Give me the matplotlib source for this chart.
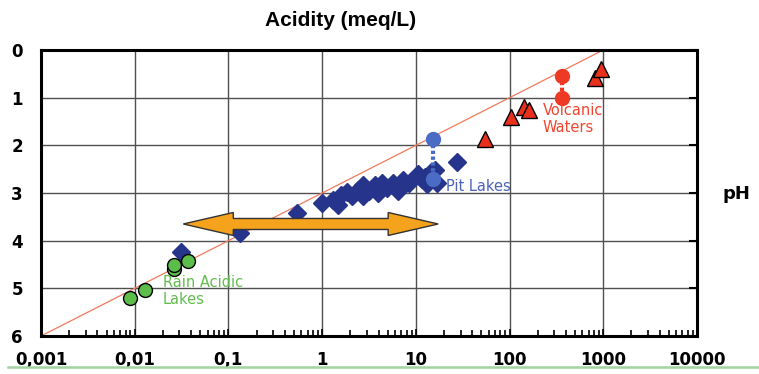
import matplotlib.pyplot as plt
import numpy as np
from matplotlib.patches import Polygon
from matplotlib.transforms import IdentityTransform
from matplotlib.lines import Line2D

# acidity (meq/L) against pH
rain_x = [0.009, 0.013, 0.026, 0.0265, 0.037]
rain_y = [5.2, 5.03, 4.6, 4.5, 4.42]

pit_x = [0.031, 0.133, 0.54, 0.99, 1.32, 1.49, 1.6, 1.83, 2.07, 2.4, 2.75, 2.75,
         3.2, 3.67, 3.98, 4.4, 4.9, 5.7, 6.5, 7.3, 8.5, 10.5, 11.5, 12.6, 13.0,
         14.5, 16.0, 17.0, 27.3]
pit_y = [4.23, 3.84, 3.41, 3.22, 3.14, 3.25, 3.05, 2.97, 3.07, 2.93, 2.83, 3.07,
         2.95, 2.83, 3.0, 2.78, 2.9, 2.8, 2.95, 2.73, 2.8, 2.6, 2.7, 2.66, 2.82,
         2.55, 2.52, 2.8, 2.34]

pit_model_x = [15.4, 15.4]
pit_model_y = [1.87, 2.71]

volc_x = [55, 103, 143, 162, 818, 948]
volc_y = [1.87, 1.40, 1.19, 1.26, 0.59, 0.40]

volc_model_x = [360, 360]
volc_model_y = [0.55, 1.0]

ref_x = [0.001, 1000]
ref_y = [6, 0]

arrow_x = [0.033, 17.3]
arrow_y = 3.65

xticks = [0.001, 0.01, 0.1, 1, 10, 100, 1000, 10000]
xlabels = ['0,001', '0,01', '0,1', '1', '10', '100', '1000', '10000']
yticks = [0, 1, 2, 3, 4, 5, 6]

fig = plt.figure(figsize=(7.59, 3.74), dpi=100)
ax = fig.add_axes([41 / 759, 38 / 374, 656 / 759, 286 / 374])

ax.set_xscale('log')
ax.set_xlim(0.001, 10000)
ax.set_ylim(6, 0)

ax.grid(True, which='major', color='#505050', lw=1.0)
ax.set_axisbelow(True)

ax.plot(ref_x, ref_y, color='#f07a5c', lw=0.9, zorder=2)

ax.plot(pit_x, pit_y, 'D', color='#27348b', ms=9, mec='#27348b', zorder=3)
ax.plot(pit_model_x, pit_model_y, color='#4a6cc4', lw=3, ls=(0, (0.8, 0.6)), zorder=3)
ax.plot(pit_model_x, pit_model_y, 'o', color='#4a6cc4', ms=10, zorder=4)

ax.plot(rain_x, rain_y, 'o', color='#5cbd4a', mec='black', mew=1.0, ms=10, zorder=4)

ax.plot(volc_model_x, volc_model_y, color='#ee3a24', lw=3, ls=(0, (0.8, 0.6)), zorder=3)
ax.plot(volc_model_x, volc_model_y, 'o', color='#ee3a24', ms=10, zorder=4)
ax.plot(volc_x, volc_y, '^', color='#e8301c', mec='black', mew=1.0, ms=11, zorder=4)

ax.text(227, 1.45, 'Volcanic\nWaters', color='#f0452e', fontsize=10.5,
        ha='left', va='center', linespacing=1.2, zorder=5)
ax.text(21, 2.86, 'Pit Lakes', color='#4a62b8', fontsize=10.5,
        ha='left', va='center', zorder=5)
ax.text(0.02, 5.05, 'Rain Acidic\nLakes', color='#62bd4e', fontsize=10.5,
        ha='left', va='center', linespacing=1.2, zorder=5)

ax.set_xticks(xticks)
ax.set_xticklabels(xlabels)
ax.set_yticks(yticks)
for lab in ax.get_xticklabels() + ax.get_yticklabels():
    lab.set_fontweight('bold')
    lab.set_fontsize(12)

ax.tick_params(axis='x', which='major', direction='in', length=5, width=1.2,
               pad=11, bottom=True, top=False)
ax.tick_params(axis='x', which='minor', direction='in', length=4, width=1.2,
               bottom=True, top=False)
ax.tick_params(axis='y', which='major', direction='in', length=6, width=1.5,
               left=False, right=True, labelleft=True, pad=13)
for s in ax.spines.values():
    s.set_linewidth(2.2)
    s.set_color('black')

# fat double-headed arrow, built in pixels around the data end points
(px0, py), (px1, _) = ax.transData.transform([(arrow_x[0], arrow_y), (arrow_x[1], arrow_y)])
hl, hw, bw = 50, 11.5, 5.5
verts = [(px0, py), (px0 + hl, py + hw), (px0 + hl, py + bw), (px1 - hl, py + bw),
         (px1 - hl, py + hw), (px1, py), (px1 - hl, py - hw), (px1 - hl, py - bw),
         (px0 + hl, py - bw), (px0 + hl, py - hw)]
ax.add_patch(Polygon(verts, closed=True, transform=IdentityTransform(),
                     facecolor='#f5a31d', edgecolor='#333333', lw=1.0, zorder=6))

fig.text(340.5 / 759, 1 - 21 / 374, 'Acidity (meq/L)', family='Liberation Sans',
         fontweight='bold', fontsize=15, ha='center', va='center')
fig.text(736 / 759, 1 - 194 / 374, 'pH', fontweight='bold', fontsize=13,
         ha='center', va='center')
fig.add_artist(Line2D([8 / 759, 1], [1 - 367 / 374] * 2, color='#a3d3a3', lw=1.8))

fig.savefig('out.png', dpi=100)
